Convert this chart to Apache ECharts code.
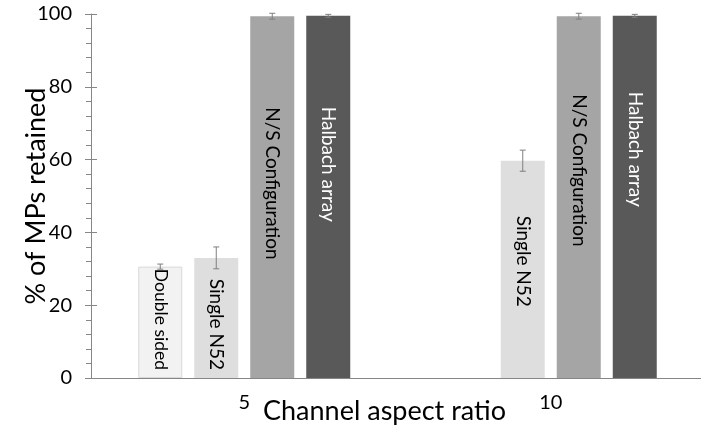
<!DOCTYPE html>
<html>
<head>
<meta charset="utf-8">
<script src="https://cdn.jsdelivr.net/npm/echarts@6/dist/echarts.min.js"></script>
<style>
  html, body { margin: 0; background: #fff; }
  #chart { width: 701px; height: 425px; }
</style>
</head>
<body>
<div id="chart"></div>
<script>
// aspect ratio categories
const categories = ['5', '10'];

// % of MPs retained, per magnet setup
const doubleSided = [30.6, null];
const singleN52 = [33, 59.7];
const nsConfig = [99.4, 99.4];
const halbach = [99.5, 99.5];

// error bar half-widths
const doubleSidedErr = [0.7, null];
const singleN52Err = [3, 2.9];
const nsConfigErr = [0.8, 0.8];
const halbachErr = [0.4, 0.4];

const FONT = 'Lato';
const AXIS_GREY = '#868686';
const BAR_W = 44;
const BAR_GAP = 12;

const chart = echarts.init(document.getElementById('chart'));

function errorSeries(idx, values, errs) {
  const data = [];
  values.forEach((v, i) => {
    if (v != null) data.push([i, v, errs[i]]);
  });
  return {
    type: 'custom',
    z: 5,
    silent: true,
    data: data,
    encode: { x: 0, y: 1 },
    renderItem: function (params, api) {
      const c = api.value(0), v = api.value(1), e = api.value(2);
      const x = api.coord([c, v])[0] + (idx - 1.5) * (BAR_W + BAR_GAP);
      const hi = api.coord([c, v + e])[1];
      const lo = api.coord([c, v - e])[1];
      const style = { stroke: '#7f7f7f', lineWidth: 1 };
      return {
        type: 'group',
        children: [
          { type: 'line', shape: { x1: x, y1: hi, x2: x, y2: lo }, style: style },
          { type: 'line', shape: { x1: x - 3, y1: hi, x2: x + 3, y2: hi }, style: style },
          { type: 'line', shape: { x1: x - 3, y1: lo, x2: x + 3, y2: lo }, style: style }
        ]
      };
    }
  };
}

// label placement inside each bar (text runs top to bottom)
function labelAt(pos, dist, color, size) {
  return {
    show: true,
    formatter: '{a}',
    position: pos,
    distance: dist,
    rotate: -90,
    align: pos === 'insideBottom' ? 'right' : 'left',
    verticalAlign: 'middle',
    fontFamily: FONT,
    fontSize: size || 19,
    color: color
  };
}

function withLabels(values, labels) {
  return values.map((v, i) => (v == null ? null : { value: v, label: labels[i] }));
}

const option = {
  animation: false,
  textStyle: { fontFamily: FONT },
  grid: { left: 91, right: -3, top: 14, bottom: 47, containLabel: false, outerBoundsMode: 'none' },
  xAxis: [
    {
      type: 'category',
      data: categories,
      name: 'Channel aspect ratio',
      nameLocation: 'middle',
      nameGap: 20,
      nameMoveOverlap: false,
      nameTextStyle: { fontFamily: FONT, fontSize: 27, color: '#000', padding: [0, 26, 0, 0] },
      axisLine: { lineStyle: { color: AXIS_GREY, width: 1 } },
      axisTick: { show: false },
      axisLabel: { fontFamily: FONT, fontSize: 20, color: '#000', margin: 15 }
    },
    {
      type: 'category',
      data: categories,
      position: 'top',
      axisLine: { show: true, lineStyle: { color: AXIS_GREY, width: 1 } },
      axisTick: { show: false },
      axisLabel: { show: false }
    }
  ],
  yAxis: [
    {
      type: 'value',
      min: 0,
      max: 100,
      interval: 20,
      name: '% of MPs retained',
      nameLocation: 'middle',
      nameGap: 41,
      nameRotate: 90,
      nameMoveOverlap: false,
      nameTextStyle: { fontFamily: FONT, fontSize: 27, color: '#000' },
      axisLine: { show: true, lineStyle: { color: AXIS_GREY, width: 1 } },
      axisTick: { show: true, length: 6, lineStyle: { color: AXIS_GREY } },
      minorTick: { show: true, splitNumber: 5, length: 5, lineStyle: { color: AXIS_GREY } },
      axisLabel: { fontFamily: FONT, fontSize: 20, color: '#000', margin: 19 },
      splitLine: { show: false }
    },
    {
      type: 'value',
      min: 0,
      max: 100,
      interval: 20,
      position: 'left',
      axisLine: { show: false },
      axisTick: { show: true, inside: true, length: 6, lineStyle: { color: AXIS_GREY } },
      axisLabel: { show: false },
      splitLine: { show: false }
    }
  ],
  series: [
    {
      name: 'Double sided',
      type: 'bar',
      barWidth: BAR_W,
      barGap: (BAR_GAP / BAR_W * 100) + '%',
      itemStyle: { color: '#f2f2f2', borderColor: '#d9d9d9', borderWidth: 1 },
      data: withLabels(doubleSided, [labelAt('insideBottom', 8, '#000', 17.5), null])
    },
    {
      name: 'Single N52',
      type: 'bar',
      barWidth: BAR_W,
      barGap: (BAR_GAP / BAR_W * 100) + '%',
      itemStyle: { color: '#dedede' },
      data: withLabels(singleN52, [labelAt('insideBottom', 8, '#000'), labelAt('insideTop', 55, '#000')])
    },
    {
      name: 'N/S Configuration',
      type: 'bar',
      barWidth: BAR_W,
      barGap: (BAR_GAP / BAR_W * 100) + '%',
      itemStyle: { color: '#a5a5a5' },
      data: withLabels(nsConfig, [labelAt('insideTop', 91, '#000'), labelAt('insideTop', 78, '#000')])
    },
    {
      name: 'Halbach array',
      type: 'bar',
      barWidth: BAR_W,
      barGap: (BAR_GAP / BAR_W * 100) + '%',
      itemStyle: { color: '#595959' },
      data: withLabels(halbach, [labelAt('insideTop', 91, '#fff'), labelAt('insideTop', 76, '#fff')])
    },
    errorSeries(0, doubleSided, doubleSidedErr),
    errorSeries(1, singleN52, singleN52Err),
    errorSeries(2, nsConfig, nsConfigErr),
    errorSeries(3, halbach, halbachErr)
  ]
};

chart.setOption(option);
</script>
</body>
</html>
